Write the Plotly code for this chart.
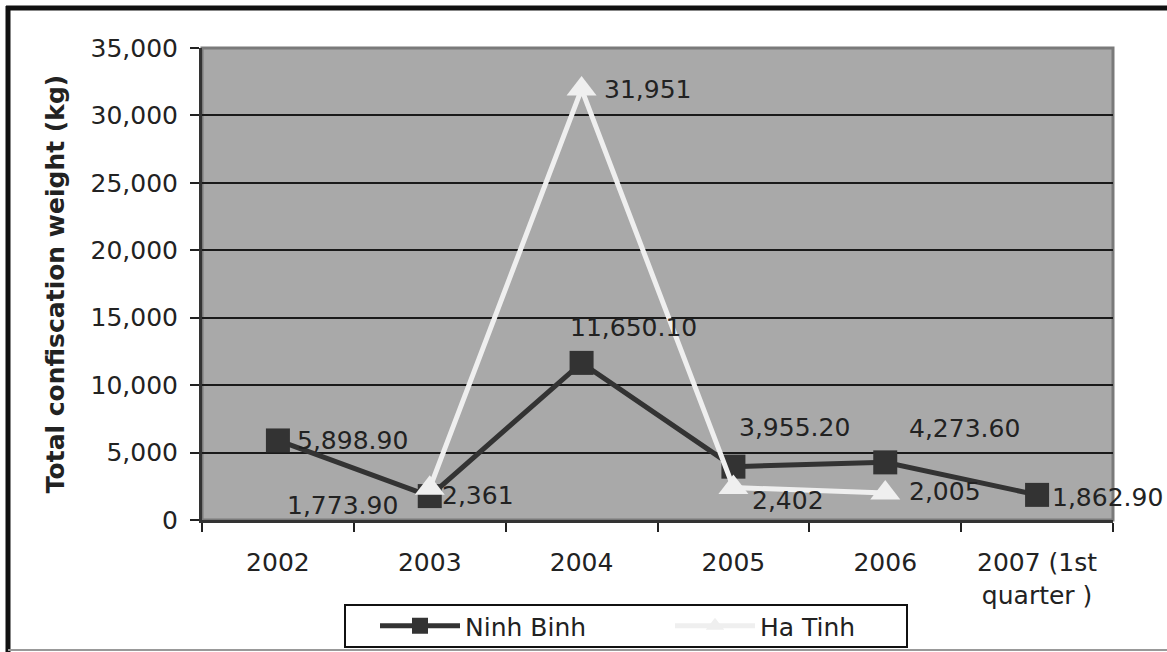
import plotly.graph_objects as go

categories = ["2002", "2003", "2004", "2005", "2006", "2007 (1st<br>quarter )"]
ninh_binh = [5898.90, 1773.90, 11650.10, 3955.20, 4273.60, 1862.90]
ha_tinh_cats = ["2003", "2004", "2005", "2006"]
ha_tinh = [2361, 31951, 2402, 2005]
y_ticks = [0, 5000, 10000, 15000, 20000, 25000, 30000, 35000]

W, H = 1167, 652
ML, MR, MT, MB = 202, 54, 48, 132
PW, PH = W - ML - MR, H - MT - MB

FONT = "DejaVu Sans"
TXT = "#222222"
FS = 25

fig = go.Figure()
fig.add_trace(go.Scatter(
    x=categories, y=ninh_binh, name="Ninh Binh", mode="lines+markers",
    line=dict(color="#333333", width=5),
    marker=dict(symbol="square", size=24, color="#333333"),
))
fig.add_trace(go.Scatter(
    x=ha_tinh_cats, y=ha_tinh, name="Ha Tinh", mode="lines+markers",
    line=dict(color="#EFEFEF", width=5),
    marker=dict(symbol="triangle-up", size=26, color="#EFEFEF"),
))

# label placement (anchor, xshift, yshift) per point
nb_pos = [("left", 17, 0), ("right", -30, -9), ("left", -14, 35),
          ("left", 4, 39), ("left", 22, 34), ("left", 13, -3)]
ht_pos = [("left", 10, -7), ("left", 20, 0), ("left", 17, -13), ("left", 22, 1)]

for v, c, (anc, xs, ys) in zip(ninh_binh, categories, nb_pos):
    fig.add_annotation(x=categories.index(c), y=v, text=f"{v:,.2f}", showarrow=False,
                       xanchor=anc, yanchor="middle", xshift=xs, yshift=ys,
                       font=dict(family=FONT, size=FS, color=TXT))
for v, c, (anc, xs, ys) in zip(ha_tinh, ha_tinh_cats, ht_pos):
    fig.add_annotation(x=categories.index(c), y=v, text=f"{v:,.0f}", showarrow=False,
                       xanchor=anc, yanchor="middle", xshift=xs, yshift=ys,
                       font=dict(family=FONT, size=FS, color=TXT))

def px(xp):
    return (xp - ML) / PW

def py(yp):
    return (H - MB - yp) / PH

shapes = [
    dict(type="rect", xref="paper", yref="paper", x0=0, x1=1, y0=0, y1=1,
         line=dict(color="#7A7A7A", width=3), layer="below"),
    # legend box
    dict(type="rect", xref="paper", yref="paper", x0=px(345), x1=px(907),
         y0=py(647), y1=py(605), fillcolor="white",
         line=dict(color="#111111", width=2), layer="above"),
    # outer frame
    dict(type="line", xref="paper", yref="paper", x0=px(8), x1=px(8), y0=py(6), y1=py(652),
         line=dict(color="#111111", width=5)),
    dict(type="line", xref="paper", yref="paper", x0=px(6), x1=px(1167), y0=py(8), y1=py(8),
         line=dict(color="#111111", width=5)),
    dict(type="line", xref="paper", yref="paper", x0=px(8), x1=px(1167), y0=py(650), y1=py(650),
         line=dict(color="#999999", width=2)),
]

fig.update_layout(
    width=W, height=H,
    margin=dict(l=ML, r=MR, t=MT, b=MB, autoexpand=False),
    paper_bgcolor="white",
    plot_bgcolor="#A9A9A9",
    font=dict(family=FONT, size=FS, color=TXT),
    showlegend=True,
    legend=dict(
        orientation="h", x=px(375), y=py(626), xanchor="left", yanchor="middle",
        bgcolor="rgba(0,0,0,0)", borderwidth=0,
        font=dict(family=FONT, size=FS, color=TXT),
        entrywidth=200, itemwidth=80, tracegroupgap=0,
    ),
    shapes=shapes,
    xaxis=dict(
        type="category", categoryorder="array", categoryarray=categories,
        range=[-0.5, 5.5], tickson="boundaries", ticks="outside", ticklen=9,
        tickwidth=2, tickcolor="#222222", showgrid=False, zeroline=False,
        showline=True, linecolor="#333333", linewidth=3,
        tickfont=dict(family=FONT, size=FS, color=TXT), ticklabelstandoff=18,
    ),
    yaxis=dict(
        range=[0, 35000], tickvals=y_ticks, tickformat=",", ticks="outside",
        ticklen=9, tickwidth=2, tickcolor="#222222",
        showgrid=True, gridcolor="#1A1A1A", gridwidth=2, zeroline=False,
        showline=True, linecolor="#333333", linewidth=3,
        tickfont=dict(family=FONT, size=FS, color=TXT), ticklabelstandoff=7,
        title=dict(text="<b>Total confiscation weight (kg)</b>", standoff=19,
                   font=dict(family=FONT, size=25, color=TXT)),
    ),
)

fig.write_html("out.html", config={"displayModeBar": False},
               post_script="document.body.style.margin='0';")
